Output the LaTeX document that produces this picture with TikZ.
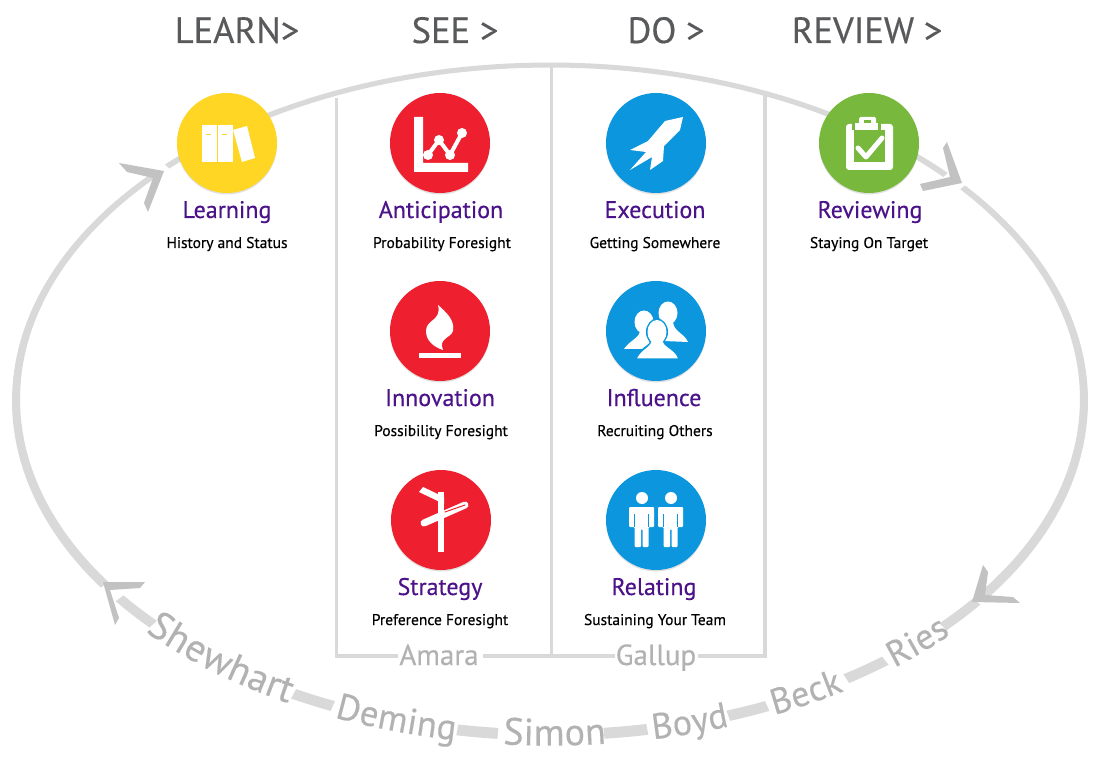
\documentclass[tikz,border=0pt]{standalone}
\usepackage{fontspec}
\setmainfont[FakeBold=0.35]{PT Sans}
\usetikzlibrary{decorations.text}
\definecolor{bandc}{HTML}{D9D9D9}
\definecolor{chevc}{HTML}{C2C2C2}
\definecolor{namec}{HTML}{B2B2B2}
\definecolor{headc}{HTML}{58595B}
\definecolor{purp}{HTML}{4B1289}
\definecolor{yel}{HTML}{FFD623}
\definecolor{redd}{HTML}{EE2030}
\definecolor{blu}{HTML}{0B96DD}
\definecolor{grn}{HTML}{78B83C}
\newcommand{\bandarc}[2]{\fill[bandc] plot[domain=#1:#2,samples=60] ({550+(534+wid(\x)/2)*cos(\x)},{400-(335+wid(\x)/2)*sin(\x)}) -- plot[domain=#2:#1,samples=60] ({550+(534-wid(\x)/2)*cos(\x)},{400-(335-wid(\x)/2)*sin(\x)}) -- cycle;}
\newcommand{\nameword}[3]{\path[decorate,decoration={text along path,raise=-10.5pt,text format delimiters={|}{|},text={|\fontsize{#3}{#3}\selectfont\color{namec}|#2}}] plot[domain=#1:#1+40,samples=60] ({550+534*cos(\x)},{400-335*sin(\x)});}
\begin{document}
\begin{tikzpicture}[x=1pt,y=-1pt,
  declare function={wid(\t)=8-3*sin(\t);},
  head/.style={anchor=base,text=headc,font=\fontsize{36.5}{36}\selectfont},
  ttl/.style={anchor=base,text=purp,font=\fontsize{24}{25}\selectfont},
  sub/.style={anchor=base,text=black,font=\fontsize{15.5}{16}\selectfont},
  boxl/.style={draw=bandc,line width=3.5pt},
  chev/.style={fill=chevc},
  shade/.style={fill=black,opacity=.12},
  ico/.style={fill=white,draw=none},
  icoline/.style={draw=white,line cap=round,line join=round},
  aut/.style={anchor=base,text=namec,font=\fontsize{29}{29}\selectfont}]
\useasboundingbox (0,0) rectangle (1098,767);
\fill[white] (0,0) rectangle (1098,767);
% loop
\bandarc{42.2}{135.8}
\bandarc{138}{213.5}
\bandarc{216.3}{222}
\bandarc{241.3}{246}
\bandarc{260}{264.4}
\bandarc{275.8}{280.5}
\bandarc{289.5}{294}
\bandarc{303.7}{308.9}
\bandarc{317.4}{323}
\bandarc{324.5}{399.4}
% box lines
\draw[boxl] (336.5,98) -- (336.5,656) -- (398,656);
\draw[boxl] (483,656) -- (615,656);
\draw[boxl] (698,656) -- (765,656) -- (765,92);
\draw[boxl] (551.5,65) -- (551.5,656);
% chevrons
\fill[chev] (119,163) -- (164,171) -- (148,212) -- (144,203) -- (153,178) -- (127,172) -- cycle;
\fill[chev] (947,142) -- (962,183) -- (923,191) -- (920,184) -- (950,177) -- (943,148) -- cycle;
\fill[chev] (983,565) -- (972,602) -- (1020,603) -- (1013,597) -- (985,595) -- (988,572) -- cycle;
\fill[chev] (145,582) -- (103,582) -- (115,625) -- (119,618) -- (110,590) -- (140,588) -- cycle;
% circles
\foreach \cx/\cy in {227/143,440/143,656/143,869/143,440/331,656/331,441/520,656/520}
  \fill[shade] (\cx,\cy+1.5) circle[radius=50];
\node[circle,fill=yel,minimum size=100pt,inner sep=0pt] (learnc) at (227,143) {};
\node[circle,fill=redd,minimum size=100pt,inner sep=0pt] (antic) at (440,143) {};
\node[circle,fill=blu,minimum size=100pt,inner sep=0pt] (execc) at (656,143) {};
\node[circle,fill=grn,minimum size=100pt,inner sep=0pt] (revc) at (869,143) {};
\node[circle,fill=redd,minimum size=100pt,inner sep=0pt] (innoc) at (440,331) {};
\node[circle,fill=blu,minimum size=100pt,inner sep=0pt] (inflc) at (656,331) {};
\node[circle,fill=redd,minimum size=100pt,inner sep=0pt] (stratc) at (441,520) {};
\node[circle,fill=blu,minimum size=100pt,inner sep=0pt] (relc) at (656,520) {};
% books
\fill[ico] (202,125) rectangle (217,162);
\fill[ico] (218,125) rectangle (233,162);
\fill[ico] (233,130) -- (247,126) -- (255,158) -- (242,162) -- cycle;
\draw[yel,line width=.7pt] (206,134) -- (211,134) (222,134) -- (227,134);
% chart
\fill[ico] (414,117) -- (423,117) -- (423,163) -- (468,163) -- (468,172) -- (414,172) -- cycle;
\draw[icoline,line width=4pt] (428,155) -- (439,140) -- (450,155) -- (462,133);
\foreach \px/\py in {428/155,439/140,450/155,462/133} \fill[ico] (\px,\py) circle[radius=5];
% rocket
\fill[ico] (683,117) -- (665,121) -- (648,141) -- (630,150) -- (646,152) -- (630,170) -- (652,157) -- (650,170) -- (663,161) -- (664,146) -- (680,130) -- cycle;
% clipboard
\fill[ico,rounded corners=3pt] (846,124) -- (893,124) -- (893,170) -- (846,170) -- cycle;
\fill[grn] (854,130) rectangle (885,162);
\fill[grn] (852,118) rectangle (881,130);
\fill[ico] (855,123) rectangle (878,130);
\fill[ico,rounded corners=1.5pt] (859,117) rectangle (876,124);
\fill[grn] (864,120) rectangle (871,123);
\draw[icoline,line width=5pt] (858,148) -- (866,157) -- (882,138);
% flame
\fill[ico] (419,353) rectangle (461,358);
\fill[ico] (438,305) .. controls (446,312) and (455,320) .. (453,331) .. controls (451,338) and (438,338) .. (443,350) .. controls (434,347) and (426,341) .. (426,331) .. controls (426,319) and (442,321) .. (438,305) -- cycle;
% people
\fill[ico] (644,322) ellipse[x radius=9.5,y radius=11.5];
\fill[ico] (668,313) ellipse[x radius=9.5,y radius=11.5];
\fill[ico] (624,349) .. controls (630,340) and (640,338) .. (640,330) -- (650,330) .. controls (650,338) and (660,340) .. (664,349) -- cycle;
\fill[ico] (673,322) -- (662,322) -- (664,341) -- (688,342) .. controls (684,333) and (674,332) .. (673,322) -- cycle;
\fill[blu] (657,332) ellipse[x radius=11,y radius=13.5];
\fill[blu] (635,360) .. controls (640,346) and (650,346) .. (651,340) -- (663,340) .. controls (664,346) and (674,346) .. (680,360) -- cycle;
\fill[ico] (657,332) ellipse[x radius=9.5,y radius=12];
\fill[ico] (637,358.5) .. controls (642,348) and (652,348) .. (652,338) -- (662,338) .. controls (662,348) and (674,348) .. (678,358.5) -- cycle;
% couple
\foreach \dx in {0,29}{
  \begin{scope}[xshift=\dx pt]
  \fill[ico] (642,498) circle[radius=6];
  \fill[ico,rounded corners=1pt] (629,507) -- (654,507) -- (654,527) -- (648.5,527) -- (648.5,547) -- (642.5,547) -- (642.5,529) -- (641,529) -- (641,547) -- (634.5,547) -- (634.5,527) -- (629,527) -- cycle;
  \draw[blu,line width=.6pt] (634.5,514) -- (634.5,527) (648.5,514) -- (648.5,527);
  \end{scope}
}
% signpost
\fill[ico] (438,492) rectangle (444,552);
\fill[ico] (419,492) -- (423,487) -- (444,497) -- (444,504) -- cycle;
\draw[icoline,line width=7pt] (424,523) -- (465,505);
\draw[redd,line width=1pt,line cap=round] (445,512) -- (465,505);
% headers
\node[head] (hl) at (237,43) {LEARN>};
\node[head] (hs) at (455,43) {SEE >};
\node[head] (hd) at (666,43) {DO >};
\node[head] (hr) at (867,43) {REVIEW >};
% titles
\node[ttl] (t1) at (227,218) {Learning};
\node[sub] (s1) at (227,248) {History and Status};
\node[ttl] (t2) at (441,218) {Anticipation};
\node[sub] (s2) at (442,248) {Probability Foresight};
\node[ttl] (t3) at (655,218) {Execution};
\node[sub] (s3) at (655,248) {Getting Somewhere};
\node[ttl] (t4) at (870,218) {Reviewing};
\node[sub] (s4) at (869,248) {Staying On Target};
\node[ttl] (t5) at (440,406) {Innovation};
\node[sub] (s5) at (441,436) {Possibility Foresight};
\node[ttl] (t6) at (654,406) {Influence};
\node[sub] (s6) at (655,436) {Recruiting Others};
\node[ttl] (t7) at (440,595) {Strategy};
\node[sub] (s7) at (440,625) {Preference Foresight};
\node[ttl] (t8) at (654,595) {Relating};
\node[sub] (s8) at (655,625) {Sustaining Your Team};
\node[aut] (am) at (439,665) {Amara};
\node[aut] (ga) at (656,665) {Gallup};
% names
\nameword{221.7}{Shewhart}{39}
\nameword{246.5}{Deming}{36.5}
\nameword{265}{Simon}{38}
\nameword{281}{Boyd}{36}
\nameword{294.5}{Beck}{36}
\nameword{309.5}{Ries}{36}
\end{tikzpicture}
\end{document}
